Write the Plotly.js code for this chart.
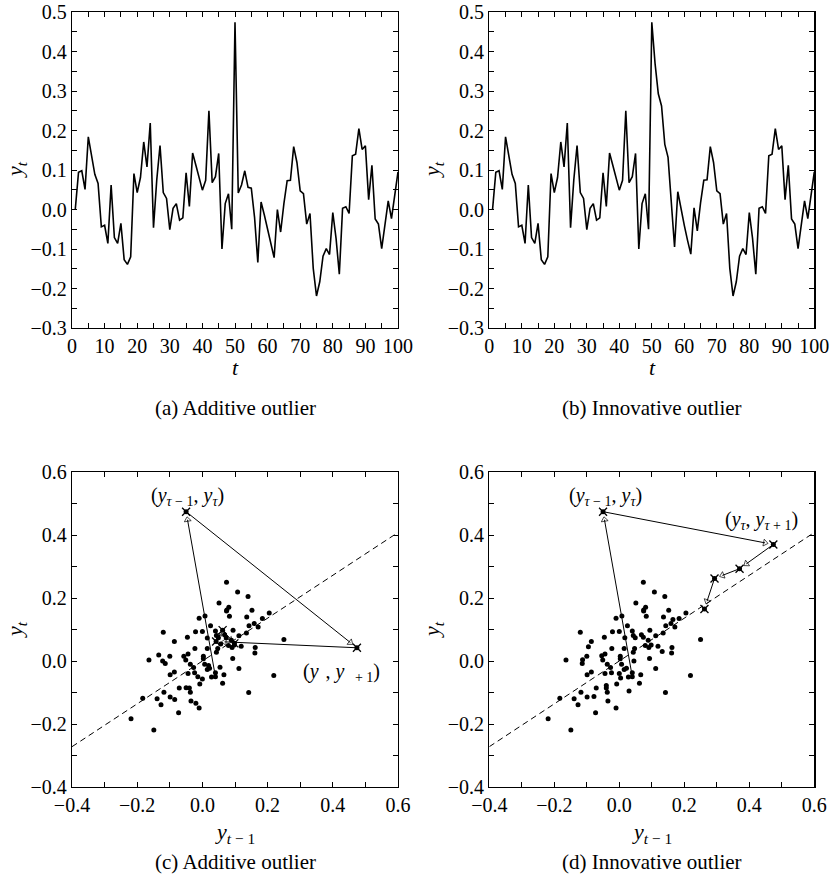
<!DOCTYPE html>
<html>
<head>
<meta charset="utf-8">
<script src="https://cdn.plot.ly/plotly-3.0.1.min.js"></script>
<style>html,body{margin:0;padding:0;background:#fff;}#chart{width:838px;height:882px;}</style>
</head>
<body>
<div id="chart"></div>
<script>
// Time index t = 1..100
const tValues = Array.from({length: 100}, (_, i) => i + 1);

// Additive outlier series
const aoSeries = [
  0.000, 0.094, 0.098, 0.051, 0.184, 0.135, 0.089, 0.066, -0.044, -0.040,
  -0.086, 0.062, -0.071, -0.086, -0.035, -0.127, -0.139, -0.120, 0.091, 0.043,
  0.081, 0.171, 0.108, 0.219, -0.046, 0.075, 0.162, 0.043, 0.028, -0.051,
  0.003, 0.015, -0.027, -0.021, 0.093, 0.008, 0.143, 0.112, 0.080, 0.049,
  0.074, 0.250, 0.068, 0.083, 0.142, -0.100, 0.015, 0.040, -0.050, 0.474,
  0.042, 0.062, 0.098, 0.056, 0.054, -0.020, -0.134, 0.019, -0.014, -0.050,
  -0.085, -0.122, 0.000, -0.057, 0.015, 0.073, 0.074, 0.159, 0.119, 0.047,
  0.040, -0.037, -0.010, -0.149, -0.219, -0.183, -0.118, -0.099, -0.114, -0.008,
  -0.073, -0.164, 0.003, 0.007, -0.010, 0.136, 0.140, 0.205, 0.152, 0.161,
  0.025, 0.112, -0.024, -0.037, -0.099, -0.044, 0.022, -0.023, 0.040, 0.095
];

// Innovative outlier series
const ioSeries = [
  0.000, 0.094, 0.098, 0.051, 0.184, 0.135, 0.089, 0.066, -0.044, -0.040,
  -0.086, 0.062, -0.071, -0.086, -0.035, -0.127, -0.139, -0.120, 0.091, 0.043,
  0.081, 0.171, 0.108, 0.219, -0.046, 0.075, 0.162, 0.043, 0.028, -0.051,
  0.003, 0.015, -0.027, -0.021, 0.093, 0.008, 0.143, 0.112, 0.080, 0.049,
  0.074, 0.250, 0.068, 0.083, 0.142, -0.100, 0.015, 0.040, -0.050, 0.474,
  0.370, 0.293, 0.262, 0.165, 0.132, 0.030, -0.095, 0.045, 0.000, -0.040,
  -0.078, -0.113, 0.004, -0.054, 0.017, 0.074, 0.075, 0.159, 0.119, 0.047,
  0.040, -0.037, -0.010, -0.149, -0.219, -0.183, -0.118, -0.099, -0.114, -0.008,
  -0.073, -0.164, 0.003, 0.007, -0.010, 0.136, 0.140, 0.205, 0.152, 0.161,
  0.025, 0.112, -0.024, -0.037, -0.099, -0.044, 0.022, -0.023, 0.040, 0.095
];

// t values whose lag pairs (y_{t-1}, y_t) form the outlier path
const pathT = [49, 50, 51, 52, 53, 54];

// reference line y_t = phi * y_{t-1}
const refLineX = [-0.4, 0.6];
const refLineY = [-0.272, 0.408];

// text
const captions = ["(a) Additive outlier", "(b) Innovative outlier", "(c) Additive outlier", "(d) Innovative outlier"];

const FONT = "Liberation Serif";
const W = 838, H = 882;
const px = v => v / W;
const py = v => 1 - v / H;

function lagPairs(series) {
  return {x: series.slice(0, -1), y: series.slice(1)};
}
function pathPoints(series) {
  const xs = [], ys = [];
  pathT.forEach(t => { xs.push(series[t - 2]); ys.push(series[t - 1]); });
  return {x: xs, y: ys};
}

const aoLag = lagPairs(aoSeries), ioLag = lagPairs(ioSeries);
const aoPath = pathPoints(aoSeries), ioPath = pathPoints(ioSeries);

const traces = [
  {x: tValues, y: aoSeries, xaxis: 'x', yaxis: 'y', mode: 'lines', line: {color: '#000', width: 1.6}},
  {x: tValues, y: ioSeries, xaxis: 'x2', yaxis: 'y2', mode: 'lines', line: {color: '#000', width: 1.6}},
  {x: refLineX, y: refLineY, xaxis: 'x3', yaxis: 'y3', mode: 'lines', line: {color: '#000', width: 1, dash: '6px,4px'}},
  {x: aoLag.x, y: aoLag.y, xaxis: 'x3', yaxis: 'y3', mode: 'markers', marker: {color: '#000', size: 5}},
  {x: aoPath.x.slice(1), y: aoPath.y.slice(1), xaxis: 'x3', yaxis: 'y3', mode: 'markers', marker: {symbol: 'x-thin-open', size: 8, color: '#000', line: {color: '#000', width: 1.3}}},
  {x: refLineX, y: refLineY, xaxis: 'x4', yaxis: 'y4', mode: 'lines', line: {color: '#000', width: 1, dash: '6px,4px'}},
  {x: ioLag.x, y: ioLag.y, xaxis: 'x4', yaxis: 'y4', mode: 'markers', marker: {color: '#000', size: 5}},
  {x: ioPath.x.slice(1), y: ioPath.y.slice(1), xaxis: 'x4', yaxis: 'y4', mode: 'markers', marker: {symbol: 'x-thin-open', size: 8, color: '#000', line: {color: '#000', width: 1.3}}}
];

// path arrows: line from each node towards the next, ending in an open triangle head
function arrowTraces(path, xa, ya) {
  for (let i = 1; i < path.x.length; i++) {
    const sx = path.x[i - 1], sy = path.y[i - 1], ex = path.x[i], ey = path.y[i];
    const len = Math.hypot(ex - sx, ey - sy);
    const back = Math.min(0.026, 0.35 * len);
    const hx = ex - (ex - sx) / len * back, hy = ey - (ey - sy) / len * back;
    traces.push({x: [sx, hx], y: [sy, hy], xaxis: xa, yaxis: ya, mode: 'lines+markers',
      line: {color: '#000', width: 1},
      marker: {symbol: ['circle', 'triangle-up-open'], size: [0, len < 0.06 ? 4 : 6], angleref: 'previous',
        color: '#000', line: {color: '#000', width: 1}}});
  }
}
arrowTraces(aoPath, 'x3', 'y3');
arrowTraces(ioPath, 'x4', 'y4');

function axis(extra) {
  return Object.assign({
    showline: true, linecolor: '#000', linewidth: 1.2, mirror: 'allticks',
    ticks: 'inside', ticklen: 5, tickwidth: 1, tickcolor: '#000',
    showgrid: false, zeroline: false,
    tickfont: {family: FONT, size: 20, color: '#000'}
  }, extra);
}

const xTop = {range: [0, 100], dtick: 10, tick0: 0, minor: {dtick: 5, ticks: 'inside', ticklen: 5, tickcolor: '#000', showgrid: false}};
const yTop = {range: [-0.3, 0.5], dtick: 0.1, tick0: 0, tickformat: '.1f', minor: {dtick: 0.05, ticks: 'inside', ticklen: 5, tickcolor: '#000', showgrid: false}};
const xBot = {range: [-0.4, 0.6], dtick: 0.2, tick0: 0, tickformat: '.1f', minor: {dtick: 0.1, ticks: 'inside', ticklen: 5, tickcolor: '#000', showgrid: false}};
const yBot = {range: [-0.4, 0.6], dtick: 0.2, tick0: 0, tickformat: '.1f', minor: {dtick: 0.1, ticks: 'inside', ticklen: 5, tickcolor: '#000', showgrid: false}};

const dxA = [px(72), px(398)], dxB = [px(489.3), px(814.3)];
const dyTop = [py(328), py(12)], dyBot = [py(787), py(472)];

const annotations = [];
function label(text, x, y, size, angle) {
  annotations.push({text: text, xref: 'paper', yref: 'paper', x: px(x), y: py(y), xanchor: 'center', yanchor: 'middle',
    showarrow: false, textangle: angle || 0, font: {family: FONT, size: size, color: '#000'}});
}
// axis titles
label('<i>y<sub>t</sub></i>', 16, 170, 22, -90);
label('<i>y<sub>t</sub></i>', 433, 170, 22, -90);
label('<i>t</i>', 235, 368, 22);
label('<i>t</i>', 652, 368, 22);
label('<i>y<sub>t</sub></i>', 16, 630, 22, -90);
label('<i>y<sub>t</sub></i>', 433, 630, 22, -90);
label('<i>y</i><sub><i>t</i> − 1</sub>', 235, 833, 22);
label('<i>y</i><sub><i>t</i> − 1</sub>', 652, 833, 22);
// captions
label(captions[0], 235, 408, 21);
label(captions[1], 652, 408, 21);
label(captions[2], 235, 862, 21);
label(captions[3], 652, 862, 21);

// point labels
function ptLabel(text, xr, yr, x, y) {
  annotations.push({text: text, xref: xr, yref: yr, x: x, y: y, showarrow: false, xanchor: 'center', yanchor: 'middle',
    font: {family: FONT, size: 20, color: '#000'}});
}
ptLabel('(<i>y</i><sub><i>τ</i> − 1</sub>, <i>y</i><sub><i>τ</i></sub>)', 'x3', 'y3', -0.045, 0.522);
ptLabel('(<i>y</i><sub>  </sub>, <i>y</i><sub>   + 1</sub>)', 'x3', 'y3', 0.428, -0.035);
ptLabel('(<i>y</i><sub><i>τ</i> − 1</sub>, <i>y</i><sub><i>τ</i></sub>)', 'x4', 'y4', -0.044, 0.522);
ptLabel('(<i>y</i><sub><i>τ</i></sub>, <i>y</i><sub><i>τ</i> + 1</sub>)', 'x4', 'y4', 0.438, 0.446);

const layout = {
  width: W, height: H,
  margin: {l: 0, r: 0, t: 0, b: 0},
  paper_bgcolor: '#fff', plot_bgcolor: '#fff',
  showlegend: false,
  font: {family: FONT, color: '#000'},
  xaxis: axis(Object.assign({domain: dxA, anchor: 'y'}, xTop)),
  yaxis: axis(Object.assign({domain: dyTop, anchor: 'x'}, yTop)),
  xaxis2: axis(Object.assign({domain: dxB, anchor: 'y2'}, xTop)),
  yaxis2: axis(Object.assign({domain: dyTop, anchor: 'x2'}, yTop)),
  xaxis3: axis(Object.assign({domain: dxA, anchor: 'y3'}, xBot)),
  yaxis3: axis(Object.assign({domain: dyBot, anchor: 'x3'}, yBot)),
  xaxis4: axis(Object.assign({domain: dxB, anchor: 'y4'}, xBot)),
  yaxis4: axis(Object.assign({domain: dyBot, anchor: 'x4'}, yBot)),
  annotations: annotations
};

Plotly.newPlot('chart', traces, layout, {staticPlot: true, displayModeBar: false});
</script>
</body>
</html>
